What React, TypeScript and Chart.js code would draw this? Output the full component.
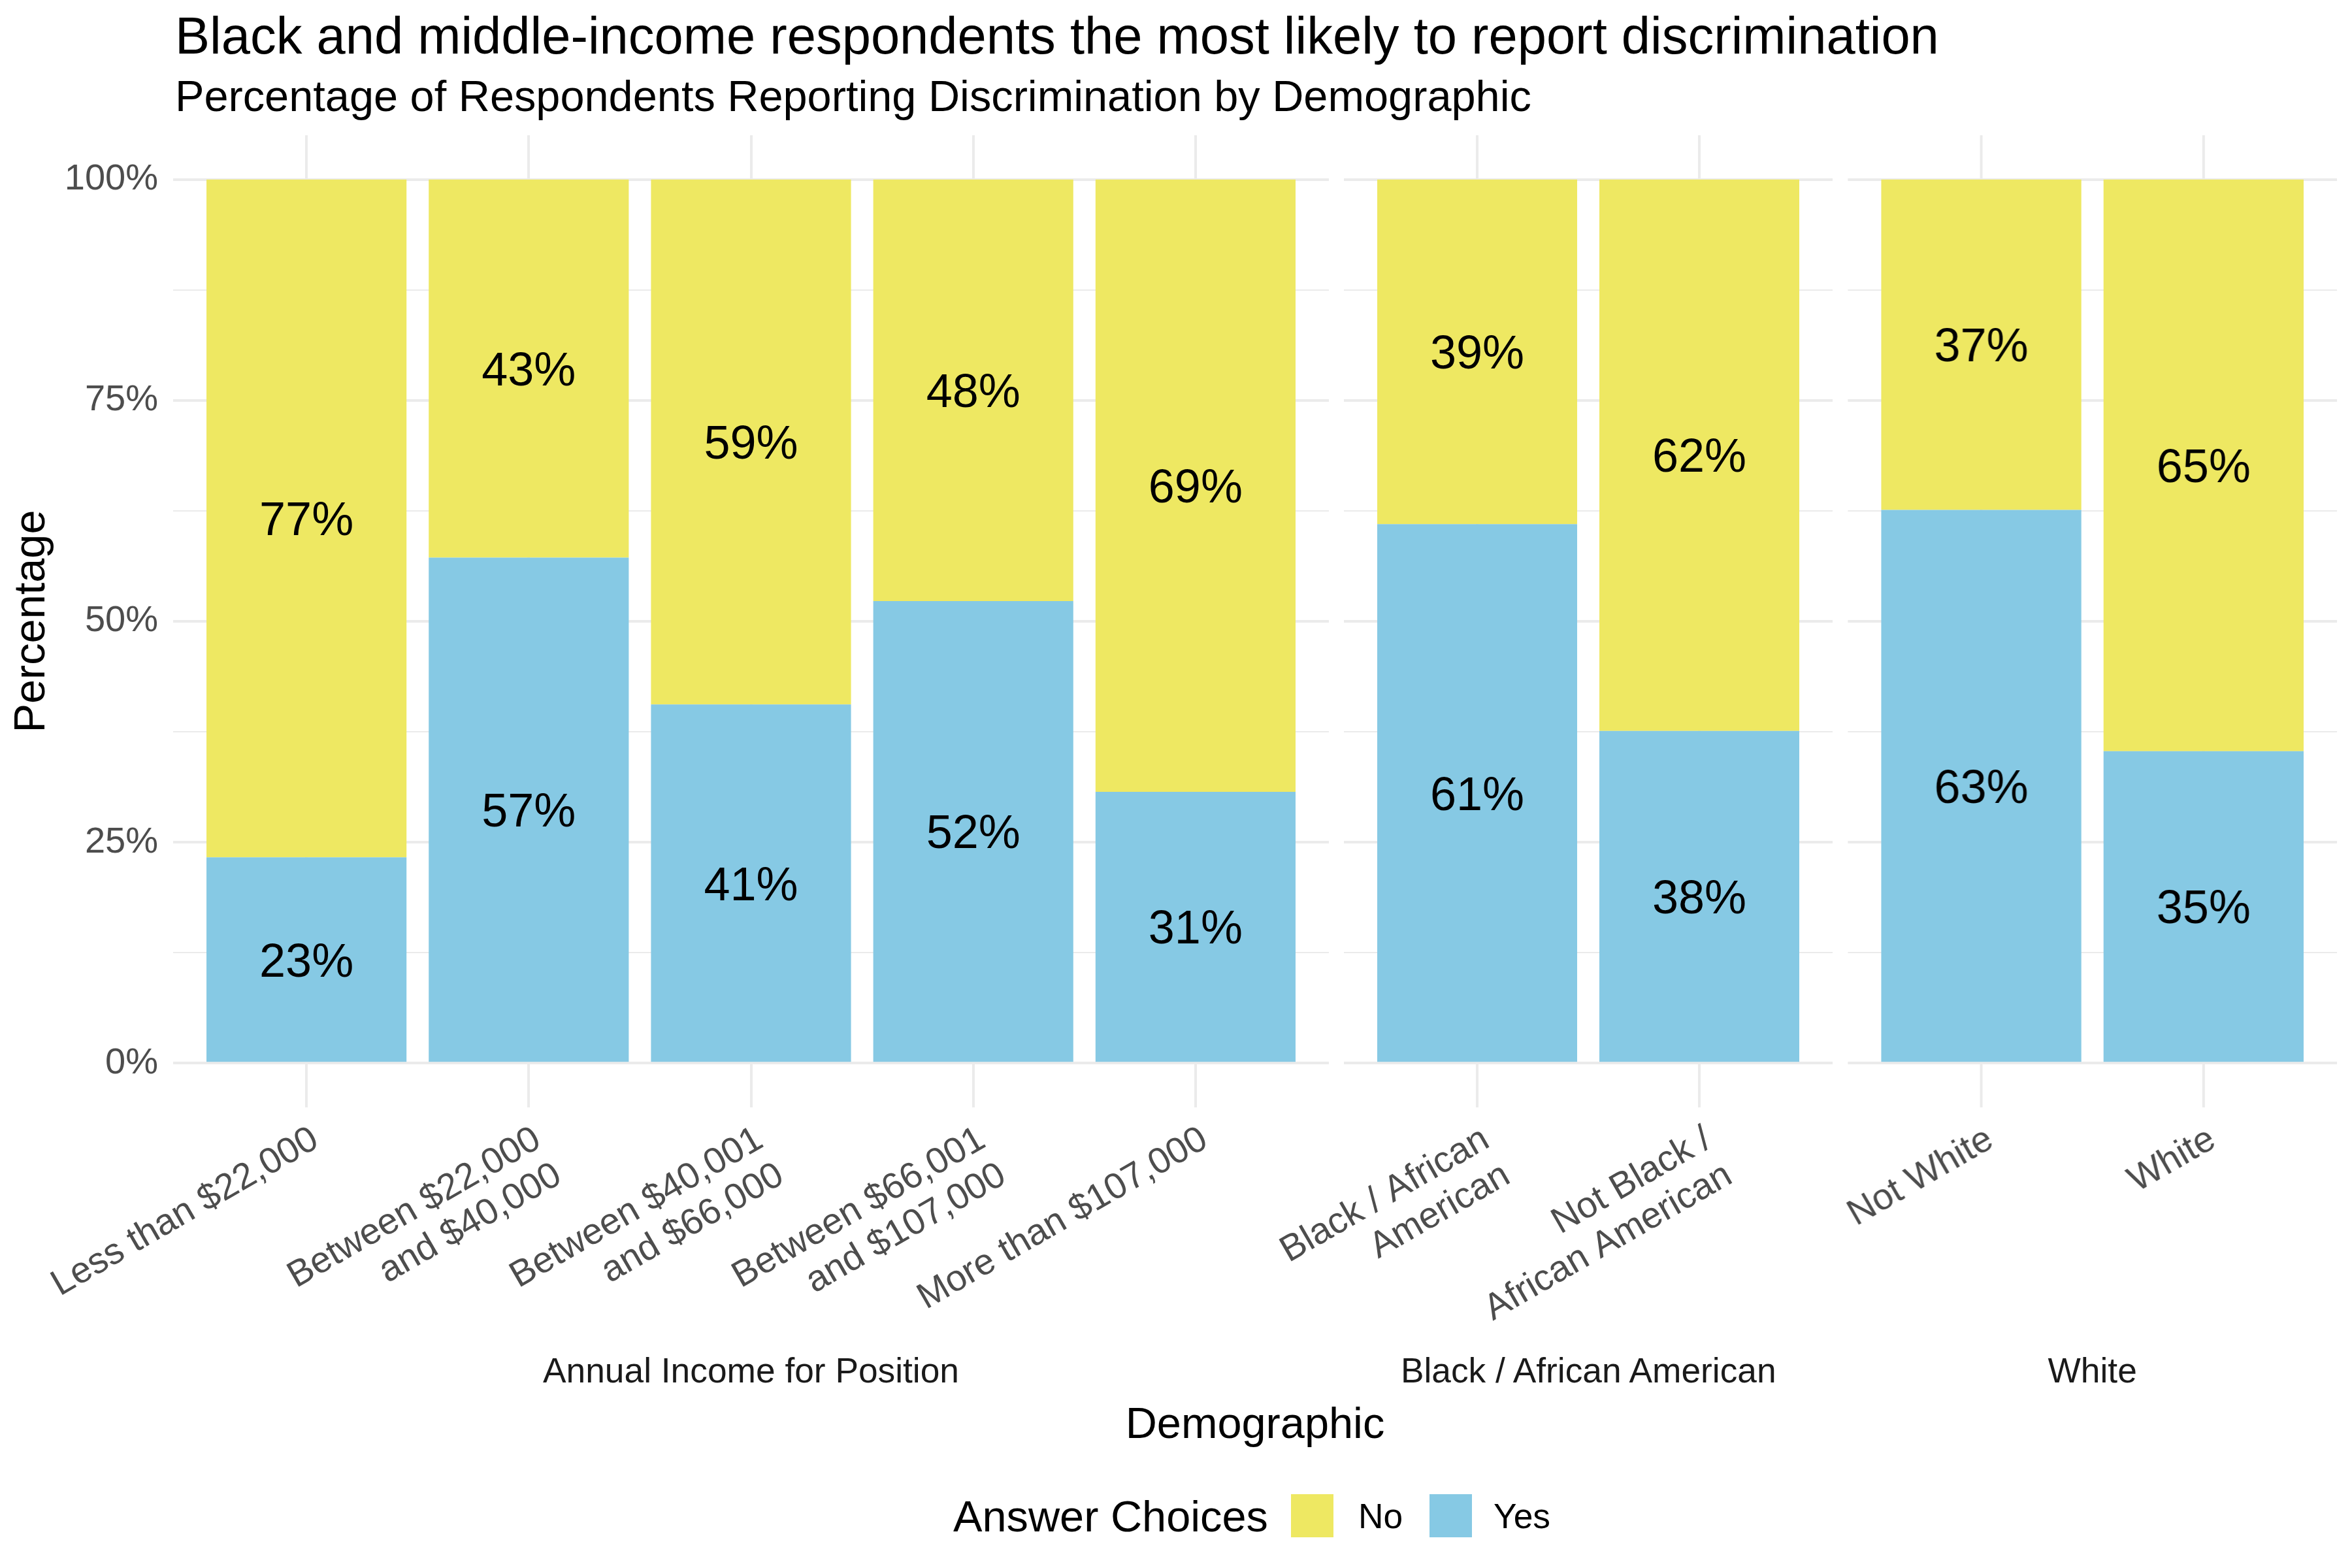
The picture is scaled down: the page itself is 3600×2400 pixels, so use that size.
import React, { useEffect, useRef } from "react";
import { Chart, registerables } from "chart.js";

Chart.register(...registerables);

const FONT = "'Liberation Sans', Arial, Helvetica, sans-serif";

// ---------- data ----------
const TITLE = "Black and middle-income respondents the most likely to report discrimination";
const SUBTITLE = "Percentage of Respondents Reporting Discrimination by Demographic";
const Y_TITLE = "Percentage";
const X_TITLE = "Demographic";
const LEGEND_TITLE = "Answer Choices";
const seriesNames = ["No", "Yes"];

const facetNames = ["Annual Income for Position", "Black / African American", "White"];

const incomeLabels = [
  ["Less than $22,000"],
  ["Between $22,000", "and $40,000"],
  ["Between $40,001", "and $66,000"],
  ["Between $66,001", "and $107,000"],
  ["More than $107,000"],
];
const incomeYes = [23.3, 57.2, 40.6, 52.3, 30.7];
const incomeNo = [76.7, 42.8, 59.4, 47.7, 69.3];

const blackLabels = [["Black / African", "American"], ["Not Black /", "African American"]];
const blackYes = [61.0, 37.6];
const blackNo = [39.0, 62.4];

const whiteLabels = [["Not White"], ["White"]];
const whiteYes = [62.6, 35.3];
const whiteNo = [37.4, 64.7];

const yTickValues = [0, 12.5, 25, 37.5, 50, 62.5, 75, 87.5, 100];

// ---------- style / layout ----------
const YELLOW = "#EEE862";
const BLUE = "#86C9E4";
const GRID = "#EBEBEB";
const AXIS_TEXT = "#4D4D4D";
const AXIS_FONT = 56;

const CANVAS_H = 2070;
const PANEL_TOP = 207;
const PANEL_BOTTOM = 1695;
const FIRST_LEFT = 265;
const UNIT = 340.2;
const GAP = 23;
const EXPAND = 0.6;
const PAD_LEFT_OTHER = 420;
const PAD_RIGHT = 30;

const valueLabels = {
  id: "valueLabels",
  afterDatasetsDraw(chart: any) {
    const ctx = chart.ctx;
    const size = 72;
    ctx.save();
    ctx.font = `${size}px ${FONT}`;
    ctx.fillStyle = "#000000";
    ctx.textAlign = "center";
    ctx.textBaseline = "alphabetic";
    chart.data.datasets.forEach((ds: any, di: number) => {
      const meta = chart.getDatasetMeta(di);
      meta.data.forEach((el: any, i: number) => {
        const v = ds.data[i].y;
        const cy = (el.y + el.base) / 2;
        ctx.fillText(`${Math.round(v)}%`, el.x, cy + 0.358 * size);
      });
    });
    ctx.restore();
  },
};

type PanelProps = {
  labels: string[][];
  yes: number[];
  no: number[];
  left: number;
  width: number;
  showY: boolean;
};

function Panel({ labels, yes, no, left, width, showY }: PanelProps) {
  const ref = useRef<HTMLCanvasElement>(null);
  const padL = showY ? 0 : PAD_LEFT_OTHER;
  const canvasLeft = showY ? 0 : left - padL;
  const canvasW = showY ? left + width + PAD_RIGHT : padL + width + PAD_RIGHT;
  const n = labels.length;

  useEffect(() => {
    if (!ref.current) return;
    const chart = new Chart(ref.current, {
      type: "bar",
      data: {
        datasets: [
          {
            label: seriesNames[1],
            data: yes.map((v, i) => ({ x: i, y: v })),
            backgroundColor: BLUE,
            borderWidth: 0,
            barPercentage: 0.9,
            categoryPercentage: 1.0,
          },
          {
            label: seriesNames[0],
            data: no.map((v, i) => ({ x: i, y: v })),
            backgroundColor: YELLOW,
            borderWidth: 0,
            barPercentage: 0.9,
            categoryPercentage: 1.0,
          },
        ],
      },
      options: {
        responsive: false,
        animation: false,
        devicePixelRatio: 1,
        layout: { padding: { left: padL, right: PAD_RIGHT, top: PANEL_TOP, bottom: 0 } },
        plugins: { legend: { display: false }, tooltip: { enabled: false } },
        scales: {
          x: {
            type: "linear",
            stacked: true,
            offset: false,
            bounds: "data",
            min: -EXPAND,
            max: n - 1 + EXPAND,
            afterBuildTicks: (s: any) => {
              s.ticks = labels.map((_, i) => ({ value: i }));
            },
            afterFit: (s: any) => {
              s.height = CANVAS_H - PANEL_BOTTOM;
            },
            grid: { color: GRID, lineWidth: 4, drawTicks: false, offset: false },
            border: { display: false },
            ticks: {
              autoSkip: false,
              minRotation: 30,
              maxRotation: 30,
              padding: 18,
              labelOffset: 14,
              color: AXIS_TEXT,
              font: { size: AXIS_FONT, family: FONT, lineHeight: 1.13 },
              callback: (v: any) => labels[Math.round(Number(v))] ?? "",
            },
          },
          y: {
            type: "linear",
            stacked: true,
            bounds: "data",
            min: -5,
            max: 105,
            afterBuildTicks: (s: any) => {
              s.ticks = yTickValues.map((v) => ({ value: v }));
            },
            afterFit: (s: any) => {
              s.width = showY ? left : 0;
            },
            grid: {
              color: GRID,
              lineWidth: (c: any) => (c.tick && c.tick.value % 25 === 0 ? 4 : 2),
              drawTicks: false,
            },
            border: { display: false },
            ticks: {
              display: showY,
              padding: 23,
              color: AXIS_TEXT,
              font: { size: AXIS_FONT, family: FONT },
              callback: (v: any) => (Number(v) % 25 === 0 ? `${v}%` : ""),
            },
            title: {
              display: showY,
              text: Y_TITLE,
              color: "#000000",
              font: { size: 66.7, family: FONT, lineHeight: 1.2 },
              padding: { top: 10, bottom: 0 },
            },
          },
        },
      },
      plugins: [valueLabels],
    } as any);
    return () => chart.destroy();
  }, []);

  return (
    <canvas
      ref={ref}
      width={canvasW}
      height={CANVAS_H}
      style={{ position: "absolute", left: canvasLeft, top: 0, width: canvasW, height: CANVAS_H }}
    />
  );
}

type TxtProps = {
  x: number;
  y: number;
  size: number;
  color?: string;
  center?: boolean;
  children: React.ReactNode;
};

function Txt({ x, y, size, color = "#000000", center = false, children }: TxtProps) {
  return (
    <div
      style={{
        position: "absolute",
        left: x,
        top: y - 0.8465 * size,
        fontSize: size,
        lineHeight: `${size}px`,
        color,
        whiteSpace: "nowrap",
        fontFamily: FONT,
        transform: center ? "translateX(-50%)" : undefined,
      }}
    >
      {children}
    </div>
  );
}

export default function App() {
  const groups = [
    { labels: incomeLabels, yes: incomeYes, no: incomeNo },
    { labels: blackLabels, yes: blackYes, no: blackNo },
    { labels: whiteLabels, yes: whiteYes, no: whiteNo },
  ];
  let cursor = FIRST_LEFT;
  const panels = groups.map((g, i) => {
    const width = (g.labels.length - 1 + 2 * EXPAND) * UNIT;
    const left = cursor;
    cursor += width + GAP;
    return { ...g, left, width, name: facetNames[i], showY: i === 0 };
  });
  const panelsRight = panels[panels.length - 1].left + panels[panels.length - 1].width;
  const centerX = (FIRST_LEFT + panelsRight) / 2;

  return (
    <div
      style={{
        position: "absolute",
        left: 0,
        top: 0,
        width: 3600,
        height: 2400,
        background: "#ffffff",
        overflow: "hidden",
        fontFamily: FONT,
      }}
    >
      <Txt x={268} y={82} size={79.5}>{TITLE}</Txt>
      <Txt x={268} y={170} size={66.7}>{SUBTITLE}</Txt>

      {panels.map((p, i) => (
        <Panel key={i} labels={p.labels} yes={p.yes} no={p.no} left={p.left} width={p.width} showY={p.showY} />
      ))}

      {panels.map((p, i) => (
        <Txt key={`s${i}`} x={p.left + p.width / 2} y={2116} size={53.3} color="#1A1A1A" center>
          {p.name}
        </Txt>
      ))}

      <Txt x={centerX} y={2201} size={66.7} center>{X_TITLE}</Txt>

      <Txt x={1459} y={2344} size={66.7}>{LEGEND_TITLE}</Txt>
      <div style={{ position: "absolute", left: 1976, top: 2287, width: 65, height: 66, background: YELLOW }} />
      <Txt x={2079} y={2339} size={53.3}>{seriesNames[0]}</Txt>
      <div style={{ position: "absolute", left: 2188, top: 2287, width: 65, height: 66, background: BLUE }} />
      <Txt x={2286} y={2339} size={53.3}>{seriesNames[1]}</Txt>
    </div>
  );
}
